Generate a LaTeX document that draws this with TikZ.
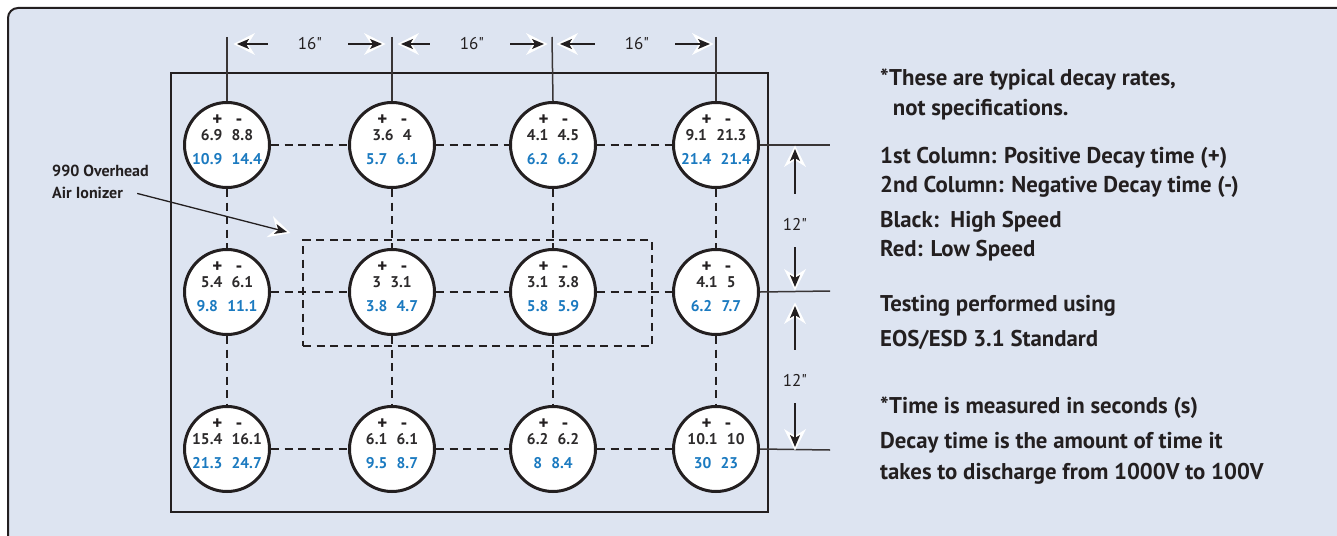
\documentclass[tikz,border=0pt]{standalone}
\usepackage{fontspec}
\setmainfont{PT Sans}
\newfontfamily\plainfont{PT Sans}
\usetikzlibrary{arrows.meta,calc}
\definecolor{bgblue}{RGB}{221,228,241}
\definecolor{ink}{RGB}{35,31,32}
\definecolor{numink}{RGB}{45,43,44}
\definecolor{numblue}{RGB}{27,122,192}
\tikzset{
  frame/.style={draw=ink, line width=2pt, fill=bgblue, rounded corners=10pt},
  room/.style={draw=ink, line width=2pt},
  probe/.style={circle, draw=ink, line width=3pt, fill=white, minimum size=85pt, inner sep=0pt},
  conn/.style={draw=ink, line width=2.2pt, dash pattern=on 8pt off 5.5pt},
  zone/.style={draw=ink, line width=2.2pt, dash pattern=on 8pt off 5.5pt, minimum width=349pt, minimum height=106pt, inner sep=0pt},
  dimline/.style={draw=ink!90, line width=1.5pt},
  dimarr/.style={draw=ink, line width=1.3pt, -{Stealth[length=12pt,width=10pt,inset=3pt]}},
  halohead/.pic={\fill[white] (3.5,0) -- (-18,-11) -- (-11,0) -- (-18,11) -- cycle;},
  pm/.style={font=\bfseries\fontsize{19}{19}\selectfont, text=ink, inner sep=0pt, anchor=base},
  blk/.style={font=\bfseries\fontsize{15.5}{15.5}\selectfont, text=numink, inner sep=0pt, anchor=base},
  blu/.style={font=\bfseries\fontsize{15.5}{15.5}\selectfont, text=numblue, inner sep=0pt, anchor=base},
  dimtxt/.style={font=\plainfont\fontsize{17}{17}\selectfont, text=ink, inner sep=0pt},
  note/.style={font=\bfseries\fontsize{22.8}{22.8}\selectfont, text=ink, inner sep=0pt, anchor=base west},
  lbl/.style={font=\bfseries\fontsize{16}{16}\selectfont, text=ink, inner sep=0pt, anchor=base west},
}
\begin{document}
\begin{tikzpicture}[x=1pt,y=-1pt]
\useasboundingbox (0,0) rectangle (1337,535);
\path[frame] (8,8) rectangle (1365,565);
\path[room] (171,73) rectangle (768,512);
\node[zone] (ion) at (477.5,293) {};

% probes
\foreach \n/\x/\y/\a/\b/\c/\d in {
  c11/227/145/6.9/8.8/10.9/14.4,
  c12/392/145/3.6/4/5.7/6.1,
  c13/553/145/4.1/4.5/6.2/6.2,
  c14/716/145/9.1/21.3/21.4/21.4,
  c21/227/292/5.4/6.1/9.8/11.1,
  c22/392/292/3/3.1/3.8/4.7,
  c23/553/292/3.1/3.8/5.8/5.9,
  c24/716/292/4.1/5/6.2/7.7,
  c31/227/449/15.4/16.1/21.3/24.7,
  c32/392/449/6.1/6.1/9.5/8.7,
  c33/553/449/6.2/6.2/8/8.4,
  c34/716/449/10.1/10/30/23}{
  \node[probe] (\n) at (\x,\y) {};
  \node[pm] (\n-p) at (\x-9.5,\y-20) {+};
  \node[pm] (\n-m) at (\x+12,\y-20) {-};
  \node[blk] (\n-k) at (\x,\y-5) {\a\hspace{0.6em}\b};
  \node[blu] (\n-b) at (\x,\y+19) {\c\hspace{0.6em}\d};
}

% dashed connectors
\foreach \r in {1,2,3}{
  \draw[conn] (c\r1) -- (c\r2);
  \draw[conn] (c\r2) -- (c\r3);
  \draw[conn] (c\r3) -- (c\r4);
}
\foreach \c in {1,2,3,4}{
  \draw[conn] (c1\c) -- (c2\c);
  \draw[conn] (c2\c) -- (c3\c);
}

% top dimension lines
\coordinate (t1) at (227,37);
\coordinate (t2) at (392,37);
\coordinate (t3) at (552,37);
\coordinate (t4) at (716,37);
\draw[dimline] (t1) -- (c11.north);
\draw[dimline] (t2) -- (c12.north);
\draw[dimline] (t3) -- (c13.north);
\draw[dimline] (t4) -- (c14.north);

\node[dimtxt] (d1) at (310,44) {16"};
\node[dimtxt] (d2) at (472,44) {16"};
\node[dimtxt] (d3) at (637,44) {16"};
\coordinate (a1l) at (237,44);
\coordinate (a1r) at (382,44);
\coordinate (a2l) at (401,44);
\coordinate (a2r) at (544,44);
\coordinate (a3l) at (560,44);
\coordinate (a3r) at (710,44);
\foreach \i in {1,2,3}{
  \pic[rotate=180] at (a\i l) {halohead};
  \pic at (a\i r) {halohead};
  \draw[dimarr, shorten <=30pt] (d\i) -- (a\i l);
  \draw[dimarr, shorten <=26pt] (d\i) -- (a\i r);
}

% right dimension lines
\coordinate (h1) at (830,145);
\coordinate (h2) at (830,291);
\coordinate (h3) at (830,450);
\draw[dimline] (c14.east) -- (h1);
\draw[dimline] (c24.east) -- (h2);
\draw[dimline] (c34.east) -- (h3);

\node[dimtxt] (v1) at (795,224) {12"};
\node[dimtxt] (v2) at (795,380) {12"};
\coordinate (b1u) at (795,149);
\coordinate (b1d) at (795,287);
\coordinate (b2u) at (795,306);
\coordinate (b2d) at (795,447);
\foreach \i in {1,2}{
  \pic[rotate=90] at (b\i u) {halohead};
  \pic[rotate=-90] at (b\i d) {halohead};
  \draw[dimarr, shorten <=24pt] (v\i) -- (b\i u);
  \draw[dimarr, shorten <=17pt] (v\i) -- (b\i d);
}

% ionizer label
\node[lbl] (lab1) at (52,176.7) {990 Overhead};
\node[lbl] (lab2) at (52,198) {Air Ionizer};
\coordinate (lt) at (287,232);
\pic[rotate=-17] at (lt) {halohead};
\draw[dimarr] ([xshift=14pt,yshift=-1pt]lab2.east) -- (lt);

% notes
\node[note] (n1) at (880,85.7) {*These are typical decay rates,};
\node[note] (n2) at (892.7,115) {not specifications.};
\node[note] (n3) at (880,163.3) {1st Column: Positive Decay time (+)};
\node[note] (n4) at (880,192.7) {2nd Column: Negative Decay time (-)};
\node[note] (n5) at (880,227.3) {Black:\ \ High Speed};
\node[note] (n6) at (880,256.7) {Red: Low Speed};
\node[note] (n7) at (880,311.7) {Testing performed using};
\node[note] (n8) at (880,346.7) {EOS/ESD 3.1 Standard};
\node[note] (n9) at (880,413.3) {*Time is measured in seconds (s)};
\node[note] (n10) at (880,448.3) {Decay time is the amount of time it};
\node[note] (n11) at (880,479.3) {takes to discharge from 1000V to 100V};
\end{tikzpicture}
\end{document}
